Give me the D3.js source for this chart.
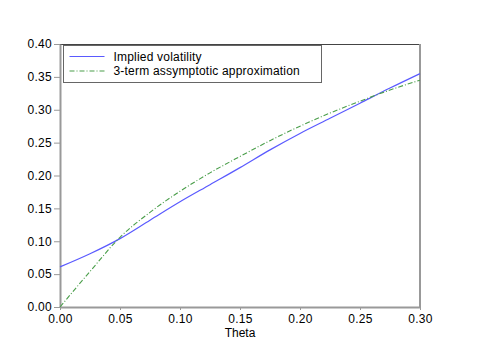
<!DOCTYPE html>
<meta charset="utf-8">
<html>
<head>
<style>
  body { margin: 0; background: #fff; }
  text { font-family: "Liberation Sans", Arial, sans-serif; fill: #000; }
</style>
</head>
<body>
<div id="chart"></div>
<script src="https://d3js.org/d3.v7.min.js"></script>
<script>

// data
var theta = [0, 0.025, 0.05, 0.075, 0.10, 0.125, 0.15, 0.175, 0.20, 0.225, 0.25, 0.275, 0.30];
var impliedVol = [0.061, 0.081, 0.104, 0.132, 0.160, 0.186, 0.212, 0.239, 0.264, 0.287, 0.310, 0.333, 0.355];
var approx3 = [0.000, 0.054, 0.106, 0.144, 0.176, 0.204, 0.229, 0.253, 0.275, 0.295, 0.313, 0.330, 0.345];
var xTicks = [0, 0.05, 0.10, 0.15, 0.20, 0.25, 0.30];
var yTicks = [0, 0.05, 0.10, 0.15, 0.20, 0.25, 0.30, 0.35, 0.40];
var seriesNames = ["Implied volatility", "3-term assymptotic approximation"];

var margin = {top: 44, right: 60, bottom: 44, left: 60},
    width = 480 - margin.left - margin.right,
    height = 351 - margin.top - margin.bottom;

var svg = d3.select("#chart")
  .append("svg")
    .attr("width", 480)
    .attr("height", 351)
  .append("g")
    .attr("transform", "translate(" + margin.left + "," + margin.top + ")");

var x = d3.scaleLinear().domain([0, 0.3]).range([0, width]);
var y = d3.scaleLinear().domain([0, 0.4]).range([height, 0]);

// frame top + right
svg.append("line")
  .attr("x1", 0).attr("x2", width).attr("y1", 0.5).attr("y2", 0.5)
  .attr("stroke", "#444");
svg.append("line")
  .attr("x1", width).attr("x2", width).attr("y1", 0).attr("y2", height)
  .attr("stroke", "#999").attr("stroke-width", 2);

// axes
var yAxis = svg.append("g")
  .call(d3.axisLeft(y).tickValues(yTicks).tickFormat(d3.format(".2f")).tickSize(6).tickSizeOuter(0));
var xAxis = svg.append("g")
  .attr("transform", "translate(0," + height + ")")
  .call(d3.axisBottom(x).tickValues(xTicks).tickFormat(d3.format(".2f")).tickSize(3).tickSizeOuter(0));

[xAxis, yAxis].forEach(function(a) {
  a.select(".domain").attr("stroke", "#999").attr("stroke-width", 2);
  a.selectAll(".tick line").attr("stroke", "#999");
  a.selectAll("text")
    .style("font-family", "Liberation Sans, Arial, sans-serif")
    .style("font-size", "12px")
    .style("letter-spacing", "0.3px")
    .attr("fill", "#000");
});
yAxis.selectAll("text").attr("x", -8);
xAxis.selectAll("text").attr("y", 7);

svg.append("text")
  .attr("x", width / 2)
  .attr("y", height + 30)
  .style("text-anchor", "middle")
  .style("font-size", "12px")
  .text("Theta");

// lines
var line1 = d3.line()
  .x(function(d, i) { return x(theta[i]); })
  .y(function(d) { return y(d); })
  .curve(d3.curveMonotoneX);

svg.append("path")
  .datum(impliedVol)
  .attr("d", line1)
  .attr("fill", "none")
  .attr("stroke", "#5a5aff")
  .attr("stroke-width", 1.2);

svg.append("path")
  .datum(approx3)
  .attr("d", line1)
  .attr("fill", "none")
  .attr("stroke", "#4a9e4a")
  .attr("stroke-width", 1.1)
  .attr("stroke-dasharray", "5,2,1,2");

// legend
var legend = svg.append("g").attr("transform", "translate(3.5,1.5)");
legend.append("rect")
  .attr("width", 258)
  .attr("height", 37)
  .attr("fill", "#fff")
  .attr("stroke", "#666");

var colors = ["#5a5aff", "#4a9e4a"];
var dashes = [null, "5,2,1,2"];
seriesNames.forEach(function(name, i) {
  legend.append("line")
    .attr("x1", 6).attr("x2", 41)
    .attr("y1", 11 + i * 14.5).attr("y2", 11 + i * 14.5)
    .attr("stroke", colors[i])
    .attr("stroke-width", 1.2)
    .attr("stroke-dasharray", dashes[i]);
  legend.append("text")
    .attr("x", 50)
    .attr("y", 11 + i * 14.5)
    .attr("dy", "0.35em")
    .style("font-size", "12px")
    .style("letter-spacing", "0.2px")
    .text(name);
});

</script>
</body>
</html>
